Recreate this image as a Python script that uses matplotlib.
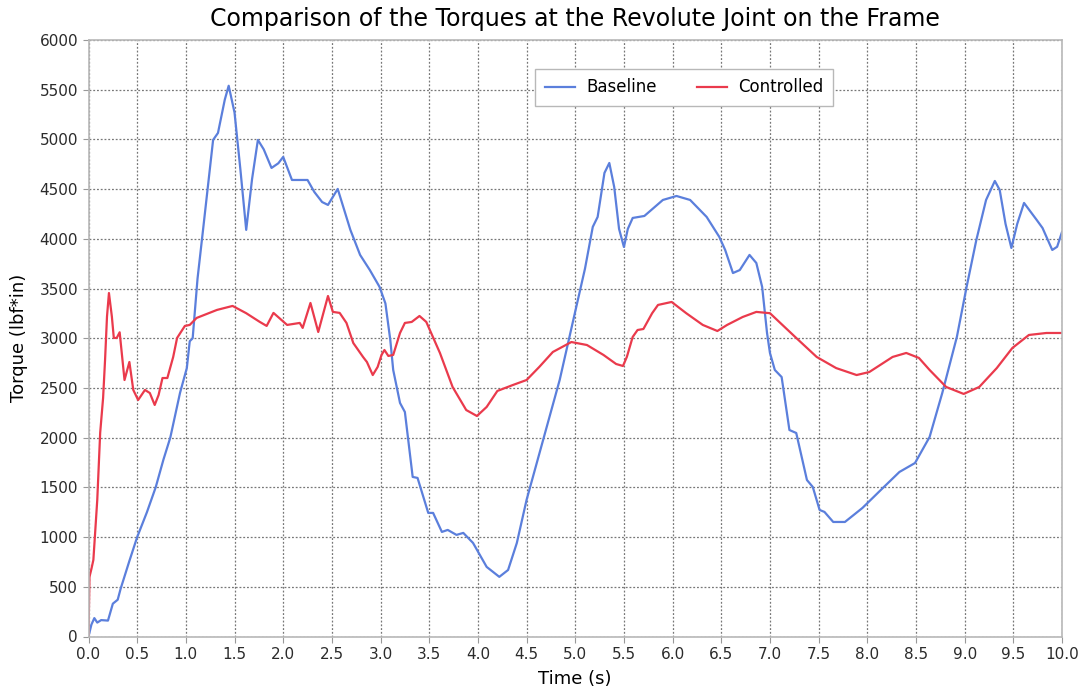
import matplotlib
matplotlib.use("Agg")
import matplotlib.pyplot as plt

# ---- data ----
baseline_t = [0.00, 0.03, 0.06, 0.09, 0.13, 0.20, 0.25, 0.30, 0.33, 0.42, 0.50, 0.60, 0.69, 0.77,
              0.84, 0.94, 1.01, 1.04, 1.07, 1.12, 1.18, 1.28, 1.33, 1.40, 1.44, 1.50, 1.56, 1.62,
              1.68, 1.74, 1.80, 1.88, 1.95, 2.00, 2.09, 2.25, 2.32, 2.40, 2.46, 2.56, 2.69, 2.79,
              2.89, 2.99, 3.05, 3.10, 3.13, 3.20, 3.25, 3.33, 3.38, 3.49, 3.54, 3.63, 3.69, 3.78,
              3.85, 3.95, 4.09, 4.22, 4.31, 4.40, 4.50, 4.67, 4.84, 4.98, 5.10, 5.18, 5.23, 5.30,
              5.35, 5.40, 5.45, 5.50, 5.54, 5.59, 5.71, 5.90, 6.04, 6.18, 6.35, 6.48, 6.54, 6.62,
              6.69, 6.79, 6.86, 6.92, 6.97, 7.00, 7.05, 7.12, 7.20, 7.27, 7.38, 7.44, 7.51, 7.56,
              7.65, 7.77, 7.95, 8.16, 8.33, 8.49, 8.64, 8.77, 8.92, 9.02, 9.12, 9.22, 9.31, 9.36,
              9.42, 9.48, 9.54, 9.61, 9.74, 9.80, 9.90, 9.95, 10.0]
baseline_v = [0, 120, 185, 140, 165, 160, 330, 370, 480, 760, 1000, 1250, 1500, 1780,
              2000, 2450, 2700, 2970, 3000, 3600, 4120, 4995, 5065, 5400, 5540, 5270, 4700, 4090,
              4600, 4995, 4900, 4713, 4760, 4824, 4592, 4592, 4471, 4370, 4341, 4502, 4090, 3838,
              3686, 3516, 3350, 2983, 2681, 2349, 2258, 1605, 1595, 1243, 1243, 1052, 1072, 1022,
              1042, 941, 700, 600, 669, 941, 1374, 1977, 2580, 3184, 3700, 4120, 4220, 4663,
              4763, 4522, 4100, 3918, 4100, 4210, 4230, 4391, 4431, 4391, 4220, 4019, 3888, 3656,
              3686, 3838, 3757, 3516, 3053, 2852, 2681, 2610, 2077, 2047, 1574, 1504, 1273, 1253,
              1152, 1152, 1293, 1494, 1655, 1745, 2007, 2449, 3013, 3516, 3988, 4391, 4582, 4492,
              4150, 3908, 4150, 4361, 4190, 4109, 3888, 3920, 4069]

controlled_t = [0.00, 0.01, 0.03, 0.05, 0.09, 0.12, 0.15, 0.17, 0.19, 0.21, 0.24, 0.26, 0.29, 0.32,
                0.37, 0.42, 0.46, 0.51, 0.58, 0.63, 0.68, 0.72, 0.76, 0.81, 0.87, 0.91, 0.99, 1.04,
                1.11, 1.32, 1.48, 1.62, 1.76, 1.83, 1.90, 2.04, 2.17, 2.20, 2.28, 2.36, 2.46, 2.51,
                2.58, 2.65, 2.72, 2.82, 2.86, 2.92, 2.97, 3.01, 3.04, 3.08, 3.13, 3.20, 3.25, 3.32,
                3.40, 3.47, 3.61, 3.74, 3.88, 3.99, 4.09, 4.20, 4.36, 4.50, 4.63, 4.77, 4.96, 5.12,
                5.29, 5.42, 5.49, 5.53, 5.59, 5.64, 5.70, 5.79, 5.85, 5.99, 6.14, 6.31, 6.46, 6.56,
                6.72, 6.86, 7.00, 7.27, 7.48, 7.68, 7.89, 8.02, 8.26, 8.40, 8.53, 8.64, 8.81, 8.99,
                9.15, 9.33, 9.49, 9.66, 9.84, 10.0]
controlled_v = [0, 600, 680, 770, 1374, 2050, 2400, 2780, 3218, 3455, 3218, 3003, 3003, 3060,
                2580, 2761, 2480, 2379, 2480, 2449, 2329, 2429, 2600, 2600, 2812, 3003, 3124, 3134,
                3204, 3285, 3325, 3252, 3164, 3124, 3255, 3134, 3154, 3104, 3355, 3063, 3425, 3265,
                3255, 3154, 2952, 2812, 2761, 2630, 2711, 2832, 2882, 2822, 2832, 3053, 3154, 3164,
                3224, 3164, 2852, 2510, 2278, 2218, 2309, 2470, 2530, 2580, 2711, 2862, 2962, 2932,
                2832, 2741, 2721, 2812, 3013, 3083, 3093, 3252, 3335, 3365, 3252, 3134, 3073, 3134,
                3214, 3265, 3252, 3003, 2812, 2700, 2630, 2660, 2812, 2852, 2802, 2681, 2510, 2440,
                2510, 2700, 2902, 3033, 3053, 3053]

x_ticks = [i * 0.5 for i in range(21)]
x_tick_labels = [f"{v:.1f}" for v in x_ticks]
y_ticks = list(range(0, 6001, 500))

title = "Comparison of the Torques at the Revolute Joint on the Frame"

# ---- figure ----
fig = plt.figure(figsize=(10.85, 6.89), dpi=100)
ax = fig.add_axes([88.5 / 1085, 1 - 636.5 / 689, (1062 - 88.5) / 1085, (636.5 - 40) / 689])

ax.plot(baseline_t, baseline_v, color="#5b7fdc", lw=1.6, label="Baseline")
ax.plot(controlled_t, controlled_v, color="#ea3a4c", lw=1.6, label="Controlled")

ax.set_xlim(0, 10)
ax.set_ylim(0, 6000)
ax.set_xticks(x_ticks)
ax.set_xticklabels(x_tick_labels)
ax.set_yticks(y_ticks)

ax.grid(True, color="#777777", linestyle=(0, (1.5, 1.5)), linewidth=0.9)
ax.set_axisbelow(True)
for sp in ax.spines.values():
    sp.set_color("#b8b8b8")
    sp.set_linewidth(1.2)
ax.tick_params(axis="both", length=4, color="#999999", labelsize=11, labelcolor="#2b2b2b")

ax.set_title(title, fontsize=17, pad=10)
ax.set_xlabel("Time (s)", fontsize=13, labelpad=6)
ax.set_ylabel("Torque (lbf*in)", fontsize=13, labelpad=8)

leg = ax.legend(loc="upper left", bbox_to_anchor=(0.459, 0.951), borderaxespad=0.0,
                ncol=2, fontsize=12, frameon=True, fancybox=False, framealpha=1,
                edgecolor="#b8b8b8", handlelength=1.8, handletextpad=0.7,
                columnspacing=2.4, borderpad=0.55)
leg.get_frame().set_linewidth(1.0)

fig.savefig("out.png", dpi=100)
